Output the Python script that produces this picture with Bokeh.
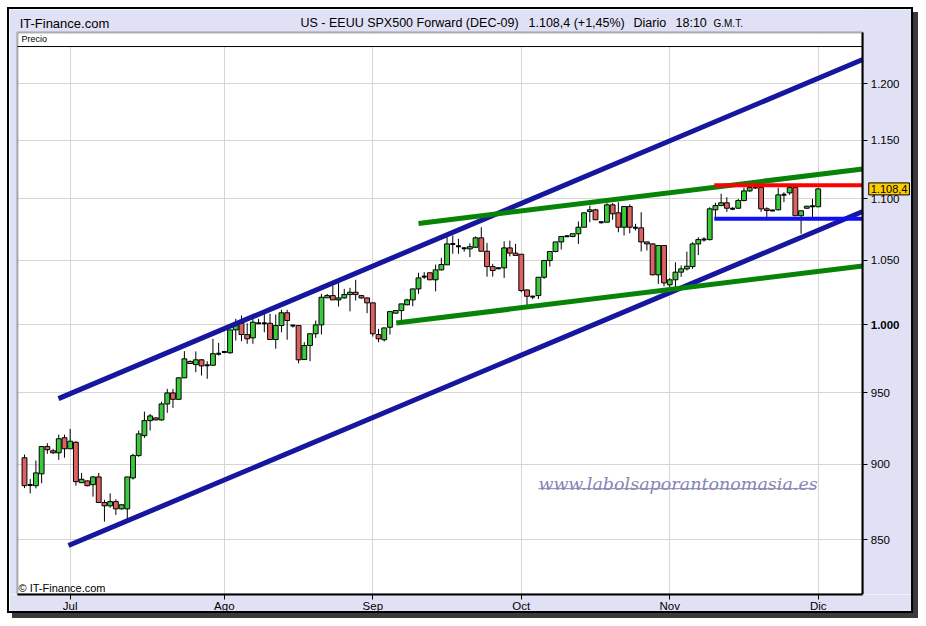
from bokeh.plotting import figure
from bokeh.models import Range1d, FixedTicker, Label, BoxAnnotation
from bokeh.embed import file_html
from bokeh.resources import INLINE

# ---- data (one bar per session, Jun 22 2009 .. Dec 1 2009, Sunday sessions included) ----
opens = [904.3, 885.9, 885.4, 893.4, 912.0, 909.1, 907.7, 918.1, 910.5, 915.0,
         887.4, 888.6, 886.1, 891.3, 874.2, 872.0, 874.8, 870.0, 870.0, 890.6,
         905.8, 919.6, 930.1, 932.0, 930.6, 941.9, 949.8, 945.2, 960.7, 972.7,
         970.4, 973.9, 969.9, 969.9, 978.4, 979.6, 979.1, 996.2, 1001.2, 992.7,
         990.2, 1001.2, 1001.2, 1001.2, 989.0, 999.5, 1009.2, 999.5, 999.5, 974.1,
         984.5, 993.3, 1000.0, 1020.7, 1022.4, 1019.1, 1020.6, 1023.2, 1025.0, 1022.4,
         1020.6, 1016.8, 992.7, 988.8, 998.2, 1008.9, 1010.9, 1015.3, 1019.1, 1027.6,
         1037.2, 1040.2, 1034.7, 1042.5, 1046.5, 1063.2, 1061.3, 1059.7, 1059.2, 1060.5,
         1068.1, 1057.3, 1045.1, 1043.8, 1044.1, 1060.0, 1055.8, 1054.9, 1026.8, 1021.6,
         1022.4, 1036.7, 1049.9, 1057.1, 1064.8, 1069.4, 1069.2, 1071.4, 1076.7, 1089.6,
         1091.0, 1080.8, 1080.8, 1095.1, 1088.5, 1076.7, 1093.7, 1076.2, 1076.2, 1064.8,
         1063.2, 1038.6, 1061.9, 1030.8, 1034.7, 1040.7, 1043.3, 1045.1, 1063.2, 1066.7,
         1066.7, 1091.0, 1094.5, 1096.8, 1091.8, 1092.3, 1098.7, 1106.7, 1109.5, 1109.5,
         1091.8, 1090.4, 1091.0, 1103.4, 1105.1, 1109.5, 1086.1, 1092.3, 1094.0, 1093.5]
highs = [906.5, 889.9, 902.4, 912.0, 914.3, 910.4, 920.3, 920.3, 924.3, 915.7,
         894.0, 889.0, 891.7, 894.0, 876.0, 880.3, 876.4, 873.0, 891.3, 907.0,
         923.1, 936.5, 934.8, 932.5, 943.5, 952.7, 952.7, 961.2, 980.3, 973.5,
         980.1, 974.5, 972.9, 989.5, 986.5, 980.5, 996.2, 1004.6, 1007.1, 1001.2,
         1004.6, 1004.6, 1008.4, 1008.4, 1007.9, 1011.5, 1011.5, 1000.0, 999.5, 987.0,
         993.3, 1003.3, 1023.7, 1023.7, 1030.2, 1032.8, 1027.6, 1028.4, 1034.7, 1023.0,
         1021.0, 1017.0, 997.0, 997.7, 1010.1, 1011.0, 1016.0, 1020.0, 1027.6, 1040.2,
         1040.7, 1040.5, 1046.7, 1052.1, 1070.6, 1070.0, 1067.3, 1060.5, 1063.7, 1069.2,
         1076.7, 1064.0, 1047.3, 1044.5, 1065.3, 1065.9, 1063.2, 1055.0, 1027.0, 1022.4,
         1036.7, 1049.9, 1057.1, 1064.8, 1069.2, 1070.2, 1071.4, 1081.4, 1088.5, 1094.5,
         1091.8, 1081.6, 1096.5, 1096.5, 1097.3, 1093.7, 1095.4, 1079.5, 1089.0, 1065.0,
         1063.5, 1061.9, 1062.0, 1036.0, 1048.5, 1046.0, 1057.0, 1064.5, 1068.6, 1068.6,
         1093.1, 1096.8, 1104.3, 1101.4, 1093.1, 1100.1, 1109.5, 1111.8, 1111.8, 1111.2,
         1093.1, 1091.0, 1109.5, 1105.6, 1111.2, 1111.2, 1090.2, 1094.2, 1100.1, 1109.5]
lows = [883.8, 880.3, 883.6, 887.0, 907.0, 907.0, 902.9, 904.3, 910.5, 885.4,
        887.4, 885.0, 878.1, 874.2, 861.7, 870.7, 866.0, 869.5, 862.3, 889.5,
        905.0, 918.0, 923.1, 930.3, 930.0, 935.6, 939.1, 944.8, 960.7, 971.0,
        964.8, 962.4, 960.0, 969.9, 977.1, 978.8, 978.4, 988.2, 987.7, 985.8,
        985.8, 1000.8, 994.4, 989.0, 982.1, 994.4, 988.8, 998.0, 971.3, 973.9,
        972.9, 990.2, 992.7, 1020.5, 1019.1, 1014.0, 1020.0, 1010.3, 1018.6, 1020.0,
        1008.9, 991.2, 987.0, 987.5, 992.7, 1008.5, 1003.3, 1015.0, 1014.2, 1023.7,
        1035.4, 1034.5, 1025.7, 1042.0, 1046.5, 1055.3, 1055.3, 1057.0, 1052.6, 1060.0,
        1057.3, 1037.2, 1037.2, 1043.0, 1036.2, 1053.2, 1054.0, 1025.0, 1014.8, 1019.5,
        1019.8, 1035.4, 1045.1, 1056.5, 1058.7, 1068.7, 1068.5, 1063.2, 1076.7, 1080.8,
        1082.8, 1079.7, 1080.8, 1082.8, 1072.6, 1070.0, 1071.8, 1074.0, 1057.1, 1057.9,
        1038.3, 1031.5, 1029.6, 1029.0, 1027.6, 1037.0, 1042.0, 1043.3, 1054.2, 1065.0,
        1065.9, 1084.9, 1094.0, 1089.3, 1090.7, 1091.8, 1097.9, 1106.0, 1108.4, 1089.3,
        1084.9, 1089.8, 1090.4, 1097.3, 1103.4, 1086.1, 1071.4, 1092.0, 1084.9, 1093.2]
closes = [885.4, 885.9, 894.0, 912.0, 909.8, 907.7, 917.4, 910.5, 915.7, 888.1,
          889.7, 885.4, 891.3, 874.2, 872.0, 874.8, 870.0, 872.7, 891.3, 905.8,
          920.8, 930.1, 933.4, 930.6, 941.9, 949.8, 945.2, 960.7, 974.6, 971.2,
          973.9, 969.4, 969.9, 978.4, 978.4, 979.6, 996.2, 999.5, 992.7, 989.5,
          1002.0, 1001.2, 1001.2, 989.0, 999.5, 1009.2, 1003.3, 999.5, 973.9, 984.5,
          993.3, 1000.0, 1021.1, 1022.4, 1019.1, 1020.6, 1023.2, 1025.0, 1023.2, 1020.6,
          1016.8, 993.3, 989.5, 997.7, 1010.1, 1010.9, 1016.0, 1019.1, 1027.6, 1036.2,
          1037.2, 1034.7, 1042.5, 1046.7, 1063.2, 1063.2, 1061.3, 1059.7, 1061.0, 1068.1,
          1057.3, 1045.1, 1042.0, 1043.8, 1060.0, 1055.8, 1054.0, 1026.3, 1021.9, 1021.6,
          1036.7, 1049.9, 1057.1, 1064.8, 1069.2, 1069.4, 1071.4, 1076.7, 1088.5, 1091.0,
          1082.8, 1080.8, 1095.1, 1087.7, 1076.7, 1093.7, 1076.7, 1076.2, 1064.8, 1063.2,
          1038.6, 1061.9, 1032.3, 1034.7, 1040.7, 1043.3, 1045.4, 1063.2, 1066.7, 1066.7,
          1091.8, 1094.5, 1096.8, 1092.3, 1091.8, 1098.7, 1106.7, 1109.5, 1109.5, 1091.8,
          1090.4, 1090.4, 1103.4, 1103.4, 1109.5, 1086.1, 1090.2, 1094.0, 1094.0, 1108.4]

month_ticks = [8, 35, 61, 87, 113, 139]
month_labels = ["Jul", "Ago", "Sep", "Oct", "Nov", "Dic"]
price_ticks = [850, 900, 950, 1000, 1050, 1100, 1150, 1200]
price_labels = ["850", "900", "950", "1.000", "1.050", "1.100", "1.150", "1.200"]

# trend lines (bar index, price)
channel_upper_x = [5.95, 146.8]
channel_upper_y = [945.7, 1222.5]
channel_lower_x = [7.7, 146.8]
channel_lower_y = [846.2, 1089.6]
wedge_upper_x = [69.0, 146.8]
wedge_upper_y = [1079.7, 1125.2]
wedge_lower_x = [65.1, 146.8]
wedge_lower_y = [1001.4, 1045.6]
resist_x = [120.8, 146.8]
resist_y = [1111.4, 1111.4]
support_x = [120.8, 146.8]
support_y = [1083.6, 1083.6]
last_price = 1108.4

# price panel (data area) and visible ranges
X0, X1 = -1.23, 146.8
Y0, Y1 = 815.4, 1247.7
HEADER = 1234.5
FX0, FX1 = -2.627, 156.04
FY1 = 1269.6

NARROW = "'Liberation Sans Narrow', 'Arial Narrow', 'Liberation Sans', sans-serif"
SANS = "'Liberation Sans', Arial, sans-serif"
GREEN = "#3CC83C"
RED = "#DD6161"
LAVENDER = "#E0E1F5"

p = figure(width=906, height=606, x_range=Range1d(FX0, FX1), y_range=Range1d(Y0, FY1),
           y_axis_type="log", y_axis_location="right", x_axis_location="below",
           output_backend="svg", toolbar_location=None,
           min_border_left=0, min_border_right=0, min_border_top=0, min_border_bottom=21)
p.styles = {"margin": "7px 0px 0px 7px", "border": "2px solid #000000",
            "box-shadow": "5px 5px 0px #3a3a3a"}
p.background_fill_color = "white"
p.border_fill_color = LAVENDER
p.outline_line_color = None

# axes
p.yaxis.fixed_location = X1
p.yaxis.bounds = (Y0, Y1)
p.xaxis.bounds = (X0, X1)
p.yaxis.ticker = FixedTicker(ticks=price_ticks)
p.ygrid.ticker = FixedTicker(ticks=price_ticks)
over = {t: l for t, l in zip(price_ticks, price_labels)}
over[1000] = ""
p.yaxis.major_label_overrides = over
p.xaxis.ticker = FixedTicker(ticks=month_ticks)
p.xgrid.ticker = FixedTicker(ticks=month_ticks)
p.xaxis.major_label_overrides = {t: l for t, l in zip(month_ticks, month_labels)}
for ax in (p.xaxis, p.yaxis):
    ax.minor_tick_line_color = None
    ax.major_tick_in = 0
    ax.major_tick_out = 5
    ax.major_tick_line_color = "black"
    ax.axis_line_color = "black"
    ax.axis_line_width = 2
    ax.major_label_text_color = "black"
p.yaxis.major_label_text_font = SANS
p.yaxis.major_label_text_font_size = "11.5px"
p.yaxis.major_label_standoff = 3
p.xaxis.major_label_text_font = NARROW
p.xaxis.major_label_text_font_size = "11.5px"
p.xaxis.major_label_standoff = 0
p.xgrid.grid_line_color = "#D6D6D6"
p.ygrid.grid_line_color = "#D6D6D6"

# lavender surround and white header bar (cover grid lines outside the price panel)
for kw in (dict(right=X0), dict(left=X1), dict(bottom=Y1)):
    p.add_layout(BoxAnnotation(fill_color=LAVENDER, fill_alpha=1.0, line_color=None,
                               level="underlay", **kw))
p.add_layout(BoxAnnotation(left=X0, right=X1, bottom=HEADER, top=Y1, fill_color="white",
                           fill_alpha=1.0, line_color=None, level="underlay"))

# candles
n = len(opens)
idx = list(range(n))
p.segment(x0=idx, y0=lows, x1=idx, y1=highs, line_color="black", line_width=1)
up = [i for i in idx if closes[i] > opens[i]]
dn = [i for i in idx if closes[i] < opens[i]]
eq = [i for i in idx if closes[i] == opens[i]]
W = 0.85
p.vbar(x=up, width=W, top=[closes[i] for i in up], bottom=[opens[i] for i in up],
       fill_color=GREEN, line_color="black", line_width=1)
p.vbar(x=dn, width=W, top=[opens[i] for i in dn], bottom=[closes[i] for i in dn],
       fill_color=RED, line_color="black", line_width=1)
p.segment(x0=[i - W / 2 for i in eq], x1=[i + W / 2 for i in eq],
          y0=[closes[i] for i in eq], y1=[closes[i] for i in eq],
          line_color="black", line_width=2)

# trend lines
p.line(channel_upper_x, channel_upper_y, line_color="#16169E", line_width=5)
p.line(channel_lower_x, channel_lower_y, line_color="#16169E", line_width=5)
p.line(wedge_upper_x, wedge_upper_y, line_color="#078307", line_width=5)
p.line(wedge_lower_x, wedge_lower_y, line_color="#078307", line_width=5)
p.line(resist_x, resist_y, line_color="#FF0000", line_width=4)
p.line(support_x, support_y, line_color="#1010F2", line_width=4)

# header separator and price panel border
p.line([X0, X1], [HEADER, HEADER], line_color="black", line_width=1)
p.add_layout(BoxAnnotation(left=X0, right=X1, bottom=Y0, top=Y1, fill_alpha=0.0, fill_color=None,
                           line_color="black", line_width=2, level="overlay"))

p.add_layout(Label(x=-0.53, y=1241.1, text="Precio", text_font=SANS, text_font_size="9px",
                   text_baseline="middle", text_color="black"))
p.add_layout(Label(x=-1.05, y=819.7, text="\u00a9 IT-Finance.com", text_font=NARROW,
                   text_font_size="11px", text_baseline="middle", text_color="black"))

# watermark
p.add_layout(Label(x=90.0, y=886.5, text="www.labolsaporantonomasia.es", text_font="'DejaVu Serif', serif",
                   text_font_style="italic", text_font_size="17.5px", text_color="#8585B5",
                   text_baseline="alphabetic"))
p.line([90.0, 138.5], [883.4, 883.4], line_color="#8585B5", line_width=1)

# title row
TY = 1256.5
p.add_layout(Label(x=-0.85, y=TY, text="IT-Finance.com", text_font=NARROW,
                   text_font_size="13px", text_baseline="middle", text_color="black"))
for tx, tt in ((48.34, "US - EEUU SPX500 Forward (DEC-09)"), (88.27, "1.108,4 (+1,45%)"),
               (106.65, "Diario"), (114.01, "18:10")):
    p.add_layout(Label(x=tx, y=TY, text=tt, text_font=NARROW, text_font_size="12.5px",
                       text_baseline="middle", text_color="black"))
p.add_layout(Label(x=120.66, y=TY, text="G.M.T.", text_font=SANS,
                   text_font_size="10px", text_baseline="middle", text_color="black"))

# bold 1.000 label and last price box on the right axis
p.add_layout(Label(x=X1, y=1000, x_offset=8, text="1.000", text_font=SANS, text_font_size="11.5px",
                   text_font_style="bold", text_baseline="middle", text_color="black"))
p.add_layout(Label(x=X1, y=last_price, x_offset=6, text="1.108,4", text_font=SANS,
                   text_font_size="11px", text_baseline="middle", text_color="black",
                   background_fill_color="#FFCC00", border_line_color="black", padding=2))

open("out.html", "w").write(file_html(p, INLINE))
